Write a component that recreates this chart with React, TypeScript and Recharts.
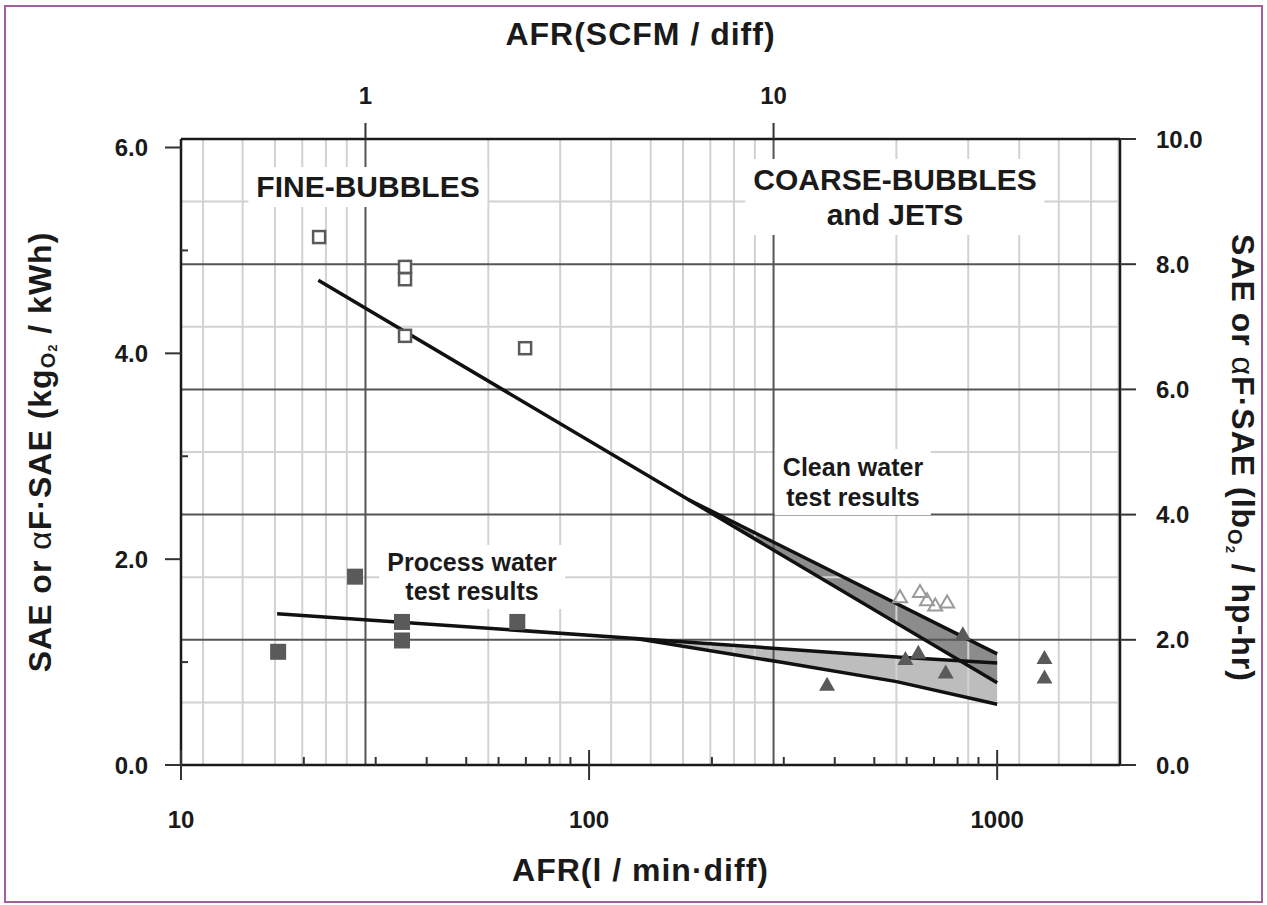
import React from 'react';
import { ComposedChart, XAxis, YAxis, Line, Area, Scatter, ReferenceLine, Label } from 'recharts';

const FONT = '"Liberation Sans", Arial, Helvetica, sans-serif';
const L_PER_SCFM = 28.317; // l/min per SCFM
const LB_PER_KG = 1.644; // lbO2/hp-hr per kgO2/kWh

// AFR in l/min·diff, SAE in kgO2/kWh
const cleanFineAfr = [21.8, 35.4, 35.4, 35.4, 69.7];
const cleanFineSae = [5.13, 4.84, 4.72, 4.17, 4.05];
const processFineAfr = [17.3, 26.7, 34.8, 34.8, 66.7];
const processFineSae = [1.1, 1.83, 1.39, 1.21, 1.39];
const cleanCoarseAfr = [578, 647, 673, 705, 754];
const cleanCoarseSae = [1.63, 1.68, 1.6, 1.55, 1.58];
const processCoarseAfr = [383, 596, 641, 748, 824, 1306, 1306];
const processCoarseSae = [0.78, 1.03, 1.09, 0.9, 1.27, 1.04, 0.85];

// trend lines and their envelopes
const trendAfr = [17.2, 21.7, 130, 175, 294, 567, 1000];
const cleanLower = [null, 4.71, null, 2.58, null, null, 0.8];
const cleanUpper = [null, null, null, 2.58, null, null, 1.08];
const processUpper = [1.47, null, 1.23, null, 1.13, 1.05, 0.99];
const processLower = [null, null, 1.23, null, 1.0, 0.81, 0.59];

// axes and grid
const bottomMajor = [10, 100, 1000];
const bottomMinor = [20, 30, 40, 50, 60, 70, 80, 90, 200, 300, 400, 500, 600, 700, 800, 900];
const topTicksScfm = [1, 10];
const gridScfmMinor = [0.4, 0.5, 0.6, 0.7, 0.8, 0.9, 2, 3, 4, 5, 6, 7, 8, 9, 20, 30, 40, 50, 60, 70];
const leftMajor = [0, 2, 4, 6];
const leftMinor = [1, 3, 5];
const rightTicks = [0, 2, 4, 6, 8, 10];
const rightGridMajor = [2, 4, 6, 8];
const rightGridMinor = [1, 3, 5, 7, 9];

const pts = (xs: number[], ys: number[]) => xs.map((x, i) => ({ x, y: ys[i] }));
const band = (lo: (number | null)[], hi: (number | null)[], i: number) =>
  lo[i] != null && hi[i] != null ? [lo[i], hi[i]] : null;

const trend = trendAfr.map((x, i) => ({
  x,
  cleanLower: cleanLower[i],
  cleanUpper: cleanUpper[i],
  processUpper: processUpper[i],
  processLower: processLower[i],
  cleanBand: band(cleanLower, cleanUpper, i),
  processBand: band(processLower, processUpper, i),
}));

const LEFT_MAX = 10 / LB_PER_KG;
const tickFont: any = { fontFamily: FONT, fontSize: 24, fontWeight: 700, fill: '#1a1a1a' };
const titleStyle: any = { fontFamily: FONT, fontSize: 32, fontWeight: 700, fill: '#1a1a1a', letterSpacing: 1 };
const axisLine = { stroke: '#1a1a1a', strokeWidth: 2.5 };
const tickLine = { stroke: '#333', strokeWidth: 2 };
const TICK_STROKE = '#333';

function OpenSquare(p: any) {
  return <rect x={p.cx - 6} y={p.cy - 6} width={12} height={12} fill="#fff" stroke="#5a5a5a" strokeWidth={2.5} />;
}
function FilledSquare(p: any) {
  return <rect x={p.cx - 8} y={p.cy - 8} width={16} height={16} fill="#5a5a5a" />;
}
function FilledTriangle(p: any) {
  const { cx, cy } = p;
  return <polygon points={`${cx},${cy - 8} ${cx + 8},${cy + 6} ${cx - 8},${cy + 6}`} fill="#5a5a5a" />;
}
function OpenTriangle(p: any) {
  const { cx, cy } = p;
  return <polygon points={`${cx},${cy - 7} ${cx + 7},${cy + 5} ${cx - 7},${cy + 5}`} fill="none" stroke="#9a9a9a" strokeWidth={2} />;
}

// major ticks cross the axis and carry a label, minor ones point inward
function BottomTick(p: any) {
  const { x, y, payload } = p;
  const v = payload.value;
  if (bottomMajor.includes(v)) {
    return (
      <g>
        <line x1={x} x2={x} y1={y - 15} y2={y + 15} stroke={TICK_STROKE} strokeWidth={2} />
        <text x={x} y={y + 63} textAnchor="middle" style={tickFont}>{v}</text>
      </g>
    );
  }
  return <line x1={x} x2={x} y1={y} y2={y - 8} stroke={TICK_STROKE} strokeWidth={2} />;
}
function LeftTick(p: any) {
  const { x, y, payload } = p;
  const v = payload.value;
  if (leftMajor.includes(v)) {
    return (
      <g>
        <line x1={x - 16} x2={x} y1={y} y2={y} stroke={TICK_STROKE} strokeWidth={2} />
        <text x={x - 33} y={y} dy="0.355em" textAnchor="end" style={tickFont}>{v.toFixed(1)}</text>
      </g>
    );
  }
  return <line x1={x} x2={x + 7} y1={y} y2={y} stroke={TICK_STROKE} strokeWidth={2} />;
}

function TopTitle(p: any) {
  const vb = p.viewBox || { x: 181, y: 0, width: 939 };
  return <text x={vb.x + vb.width / 2 - 10} y={45} textAnchor="middle" style={titleStyle}>AFR(SCFM / diff)</text>;
}
function BottomTitle(p: any) {
  const vb = p.viewBox || { x: 181, y: 765, width: 939 };
  return <text x={vb.x + vb.width / 2 - 10} y={881} textAnchor="middle" style={titleStyle}>AFR(l / min·diff)</text>;
}
function LeftTitle(p: any) {
  const vb = p.viewBox || { y: 139, height: 626 };
  const cx = 40;
  const cy = vb.y + vb.height / 2;
  return (
    <text x={cx} y={cy} transform={`rotate(-90 ${cx} ${cy})`} textAnchor="middle" dominantBaseline="central" style={titleStyle}>
      SAE or <tspan fontWeight={400}>α</tspan>F·SAE (kg
      <tspan fontSize={20} dy={8}>O</tspan>
      <tspan fontSize={13} dy={4}>2</tspan>
      <tspan dy={-12}> / kWh)</tspan>
    </text>
  );
}
function RightTitle(p: any) {
  const vb = p.viewBox || { y: 139, height: 626 };
  const cx = 1243;
  const cy = vb.y + vb.height / 2 + 6;
  return (
    <text x={cx} y={cy} transform={`rotate(90 ${cx} ${cy})`} textAnchor="middle" dominantBaseline="central" style={titleStyle}>
      SAE or <tspan fontWeight={400}>α</tspan>F·SAE (lb
      <tspan fontSize={20} dy={8}>O</tspan>
      <tspan fontSize={13} dy={4}>2</tspan>
      <tspan dy={-12}> / hp-hr)</tspan>
    </text>
  );
}

function Note({ cx, cy, size, lh, lines }: { cx: number; cy: number; size: number; lh: number; lines: string[] }) {
  return (
    <div style={{
      position: 'absolute', left: cx, top: cy, transform: 'translate(-50%, -50%)',
      background: '#fff', padding: '3px 8px', fontFamily: FONT, fontWeight: 700,
      fontSize: size, lineHeight: `${lh}px`, textAlign: 'center', whiteSpace: 'nowrap', color: '#1a1a1a'
    }}>
      {lines.map(l => <div key={l}>{l}</div>)}
    </div>
  );
}

export default function App() {
  const common = { type: 'number' as const, scale: 'log' as const, domain: [10, 2000], allowDataOverflow: true };
  return (
    <div style={{ position: 'absolute', left: 0, top: 0, width: 1267, height: 905, background: '#fff' }}>
      <ComposedChart width={1267} height={905} data={trend} margin={{ top: 0, right: 0, bottom: 0, left: 0 }}>
        <XAxis xAxisId="b" dataKey="x" {...common} ticks={[...bottomMajor, ...bottomMinor]} height={140}
          tickSize={0} tickMargin={0} axisLine={axisLine} tickLine={false} tick={BottomTick} interval={0}>
          <Label content={BottomTitle} />
        </XAxis>
        <XAxis xAxisId="t" dataKey="x" orientation="top" {...common} ticks={topTicksScfm.map(v => v * L_PER_SCFM)}
          tickFormatter={(v: number) => String(Math.round(v / L_PER_SCFM))} height={139} tickSize={16} tickMargin={19}
          axisLine={axisLine} tickLine={tickLine} tick={tickFont} interval={0}>
          <Label content={TopTitle} />
        </XAxis>
        <YAxis yAxisId="l" type="number" domain={[0, LEFT_MAX]} allowDataOverflow ticks={[...leftMajor, ...leftMinor]} width={181}
          tickSize={0} tickMargin={0} axisLine={axisLine} tickLine={false} tick={LeftTick} interval={0}>
          <Label content={LeftTitle} />
        </YAxis>
        <YAxis yAxisId="r" orientation="right" type="number" domain={[0, 10]} allowDataOverflow ticks={rightTicks} width={147}
          tickSize={16} tickMargin={20} tickFormatter={(v: number) => v.toFixed(1)}
          axisLine={axisLine} tickLine={tickLine} tick={tickFont} interval={0}>
          <Label content={RightTitle} />
        </YAxis>

        {gridScfmMinor.map(v => (
          <ReferenceLine key={`vm${v}`} xAxisId="b" yAxisId="l" x={v * L_PER_SCFM} stroke="#d2d2d2" strokeWidth={2} />
        ))}
        {rightGridMinor.map(v => (
          <ReferenceLine key={`hm${v}`} xAxisId="b" yAxisId="r" y={v} stroke="#d2d2d2" strokeWidth={2} />
        ))}
        {topTicksScfm.map(v => (
          <ReferenceLine key={`vM${v}`} xAxisId="b" yAxisId="l" x={v * L_PER_SCFM} stroke="#555" strokeWidth={2} />
        ))}
        {rightGridMajor.map(v => (
          <ReferenceLine key={`hM${v}`} xAxisId="b" yAxisId="r" y={v} stroke="#555" strokeWidth={2} />
        ))}

        <Area xAxisId="b" yAxisId="l" dataKey="processBand" type="linear" connectNulls fill="#bdbdbd" fillOpacity={1}
          stroke="none" isAnimationActive={false} />
        <Area xAxisId="b" yAxisId="l" dataKey="cleanBand" type="linear" connectNulls fill="#8c8c8c" fillOpacity={1}
          stroke="none" isAnimationActive={false} />

        <Line xAxisId="b" yAxisId="l" dataKey="processUpper" type="linear" connectNulls stroke="#111" strokeWidth={3.5} dot={false} isAnimationActive={false} />
        <Line xAxisId="b" yAxisId="l" dataKey="processLower" type="linear" connectNulls stroke="#111" strokeWidth={3.5} dot={false} isAnimationActive={false} />
        <Line xAxisId="b" yAxisId="l" dataKey="cleanLower" type="linear" connectNulls stroke="#111" strokeWidth={3.5} dot={false} isAnimationActive={false} />
        <Line xAxisId="b" yAxisId="l" dataKey="cleanUpper" type="linear" connectNulls stroke="#111" strokeWidth={3.5} dot={false} isAnimationActive={false} />

        <Scatter xAxisId="b" yAxisId="l" data={pts(cleanFineAfr, cleanFineSae)} dataKey="y" shape={OpenSquare} isAnimationActive={false} />
        <Scatter xAxisId="b" yAxisId="l" data={pts(processFineAfr, processFineSae)} dataKey="y" shape={FilledSquare} isAnimationActive={false} />
        <Scatter xAxisId="b" yAxisId="l" data={pts(cleanCoarseAfr, cleanCoarseSae)} dataKey="y" shape={OpenTriangle} isAnimationActive={false} />
        <Scatter xAxisId="b" yAxisId="l" data={pts(processCoarseAfr, processCoarseSae)} dataKey="y" shape={FilledTriangle} isAnimationActive={false} />
      </ComposedChart>

      <Note cx={368} cy={187} size={30} lh={34} lines={['FINE-BUBBLES']} />
      <Note cx={895} cy={197} size={30} lh={35} lines={['COARSE-BUBBLES', 'and JETS']} />
      <Note cx={472} cy={577} size={25} lh={29} lines={['Process water', 'test results']} />
      <Note cx={853} cy={482} size={25} lh={30} lines={['Clean water', 'test results']} />

      <div style={{ position: 'absolute', left: 4, top: 5, width: 1259, height: 898, border: '2px solid #a0609c', boxSizing: 'border-box', pointerEvents: 'none' }} />
    </div>
  );
}
